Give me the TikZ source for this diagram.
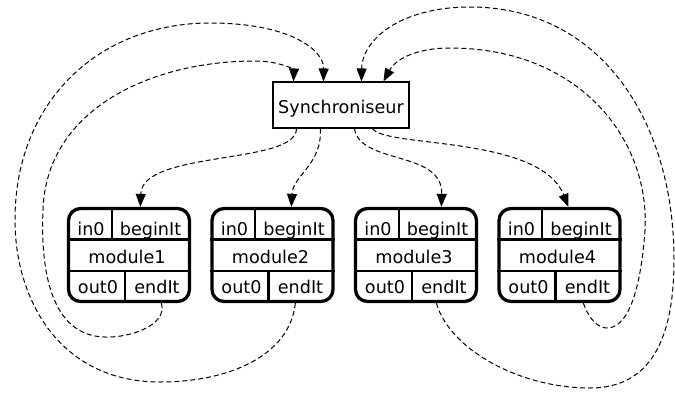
\documentclass[tikz,border=0pt]{standalone}
\usepackage{fontspec}
\setmainfont{DejaVu Sans}
\usetikzlibrary{arrows.meta,calc}
\begin{document}
\begin{tikzpicture}[x=1pt,y=-1pt,
  every node/.style={font=\fontsize{17.6pt}{20pt}\selectfont},
  modbox/.style={draw, rounded corners=12pt, line width=3.3pt, minimum width=121pt, minimum height=93pt, inner sep=0pt},
  divider/.style={line width=2.3pt},
  celltext/.style={anchor=base, inner sep=0pt},
  syncbox/.style={draw, line width=1.1pt, minimum width=136pt, minimum height=46pt, inner sep=0pt, text height=17pt, text depth=0pt},
  flow/.style={line width=1pt, dash pattern=on 5pt off 3pt, -{Triangle[length=13pt,width=10pt]}}
]
\useasboundingbox (0,0) rectangle (675,392);

\node[syncbox] (sync) at (341,105) {Synchroniseur};

\foreach \i/\cx in {1/129,2/272.5,3/416,4/559.5}{
  \node[modbox] (m\i) at (\cx,255) {};
  \draw[divider] (m\i.west |- 0,239.5) -- (m\i.east |- 0,239.5);
  \draw[divider] (m\i.west |- 0,271) -- (m\i.east |- 0,271);
  \draw[divider] ([xshift=44.8pt]m\i.north west) -- ([xshift=44.8pt]m\i.north west |- 0,239.5);
  \draw[divider] ([xshift=58.2pt]m\i.south west) -- ([xshift=58.2pt]m\i.south west |- 0,271);
  \node[celltext] (m\i-in) at ({\cx-38},235) {in0};
  \node[celltext] (m\i-b) at ({\cx+21.5},235) {beginIt};
  \node[celltext] (m\i-n) at ({\cx-2},263) {module\i};
  \node[celltext] (m\i-out) at ({\cx-31},293.5) {out0};
  \node[celltext] (m\i-e) at ({\cx+28},293.5) {endIt};
}

% synchroniseur -> modules
\draw[flow] ([xshift=24pt]sync.south west) .. controls (297,165) and (142,150) .. ([xshift=73.5pt]m1.north west);
\draw[flow] ([xshift=48pt]sync.south west) .. controls (322,165) and (293,175) .. ([xshift=81pt]m2.north west);
\draw[flow] ([xshift=82pt]sync.south west) .. controls (360,165) and (443,150) .. ([xshift=87.5pt]m3.north west);
\draw[flow] ([xshift=100pt]sync.south west) .. controls (385,148) and (540,135) .. ([xshift=71pt]m4.north west);

% modules -> synchroniseur
\draw[flow] ([xshift=94.5pt]m1.south west) .. controls (168,325) and (130,338) .. (105,337)
  .. controls (55,336) and (40,280) .. (43,210)
  .. controls (46,110) and (150,61) .. (255,61)
  .. controls (280,61) and (294,70) .. ([xshift=21pt]sync.north west);
\draw[flow] ([xshift=85pt]m2.south west) .. controls (290,355) and (230,382) .. (160,382)
  .. controls (60,382) and (15,300) .. (15,220)
  .. controls (15,100) and (100,23) .. (210,23)
  .. controls (290,23) and (324,50) .. ([xshift=51pt]sync.north west);
\draw[flow] ([xshift=82.5pt]m3.south west) .. controls (450,350) and (520,388) .. (590,388)
  .. controls (650,388) and (674,340) .. (674,260)
  .. controls (674,120) and (600,7) .. (470,7)
  .. controls (400,7) and (362,40) .. ([xshift=89pt]sync.north west);
\draw[flow] ([xshift=86pt]m4.south west) .. controls (590,322) and (600,328) .. (607,328)
  .. controls (625,328) and (640,300) .. (645,230)
  .. controls (650,140) and (580,48) .. (450,48)
  .. controls (415,48) and (395,60) .. ([xshift=111pt]sync.north west);
\end{tikzpicture}
\end{document}
